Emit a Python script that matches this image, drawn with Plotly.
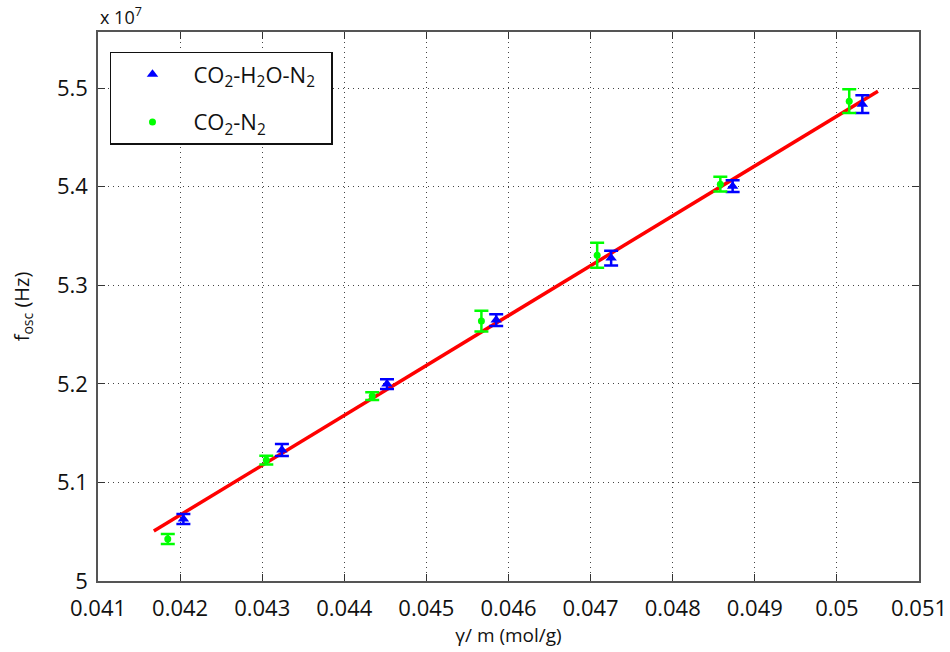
import plotly.graph_objects as go

# CO2-H2O-N2 (blue triangles)
x_h2o = [0.04204, 0.04324, 0.04452, 0.04585, 0.04725, 0.04873, 0.05031]
y_h2o = [5.0629, 5.1329, 5.1998, 5.2647, 5.3276, 5.4006, 5.4838]
e_h2o = [0.005, 0.006, 0.005, 0.006, 0.0075, 0.006, 0.009]

# CO2-N2 (green dots)
x_n2 = [0.04185, 0.04305, 0.04434, 0.04567, 0.04708, 0.04858, 0.05015]
y_n2 = [5.0426, 5.1227, 5.1876, 5.2637, 5.3306, 5.4026, 5.4868]
e_n2 = [0.005, 0.0045, 0.004, 0.0105, 0.0127, 0.0075, 0.012]

# linear fit line (endpoints)
x_fit = [0.04168, 0.0505]
y_fit = [5.0507, 5.4970]

x_ticks = [0.041, 0.042, 0.043, 0.044, 0.045, 0.046, 0.047, 0.048, 0.049, 0.05, 0.051]
x_tick_labels = ["0.041", "0.042", "0.043", "0.044", "0.045", "0.046", "0.047", "0.048", "0.049", "0.05", "0.051"]
y_ticks = [5.0, 5.1, 5.2, 5.3, 5.4, 5.5]
y_tick_labels = ["5", "5.1", "5.2", "5.3", "5.4", "5.5"]

font = "Open Sans"

fig = go.Figure()
fig.add_trace(go.Scatter(
    x=x_fit, y=y_fit, mode="lines", line=dict(color="#ff0000", width=3.5),
    showlegend=False, hoverinfo="skip"))
fig.add_trace(go.Scatter(
    x=x_h2o, y=y_h2o, mode="markers",
    name="CO<sub>2</sub>-H<sub>2</sub>O-N<sub>2</sub>&nbsp;&nbsp;",
    legendgroup="a",
    marker=dict(symbol="triangle-up", color="#0000ff", size=10),
    error_y=dict(type="data", array=e_h2o, color="#0000ff", thickness=2.5, width=7)))
fig.add_trace(go.Scatter(
    x=x_n2, y=y_n2, mode="markers", name="CO<sub>2</sub>-N<sub>2</sub>",
    legendgroup="b",
    marker=dict(symbol="circle", color="#00ff00", size=7),
    error_y=dict(type="data", array=e_n2, color="#00ff00", thickness=2.5, width=7)))

axis_common = dict(
    showline=True, linecolor="#555555", linewidth=1.5, mirror="ticks",
    ticks="inside", ticklen=7, tickcolor="#333333",
    showgrid=True, gridcolor="#444444", griddash="1px,4px", gridwidth=1.2,
    zeroline=False, automargin=False,
    tickfont=dict(family=font, size=22, color="#111111"),
)

fig.update_layout(
    width=950, height=652,
    margin=dict(l=98, r=31, t=32, b=71),
    paper_bgcolor="white", plot_bgcolor="white",
    font=dict(family=font, color="#111111"),
    xaxis=dict(range=[0.041, 0.051], tickvals=x_ticks, ticktext=x_tick_labels,
               ticklabelstandoff=7,
               title=dict(text="γ/ m (mol/g)", font=dict(family=font, size=19), standoff=2),
               **axis_common),
    yaxis=dict(range=[5.0, 5.557], tickvals=y_ticks, ticktext=y_tick_labels,
               ticklabelstandoff=4,
               title=dict(text="f<sub>osc</sub> (Hz)", font=dict(family=font, size=20), standoff=22),
               **axis_common),
    legend=dict(x=0.0146, y=0.9636, xanchor="left", yanchor="top",
                bgcolor="white", bordercolor="#111111", borderwidth=1.5,
                font=dict(family=font, size=22, color="#111111"),
                itemwidth=72, tracegroupgap=16),
    annotations=[dict(text="x 10<sup>7</sup>", xref="paper", yref="paper",
                      x=0.0, y=1.0, xanchor="left", yanchor="bottom", yshift=1,
                      showarrow=False, font=dict(family=font, size=18, color="#111111"))],
)

fig.write_html("out.html")
